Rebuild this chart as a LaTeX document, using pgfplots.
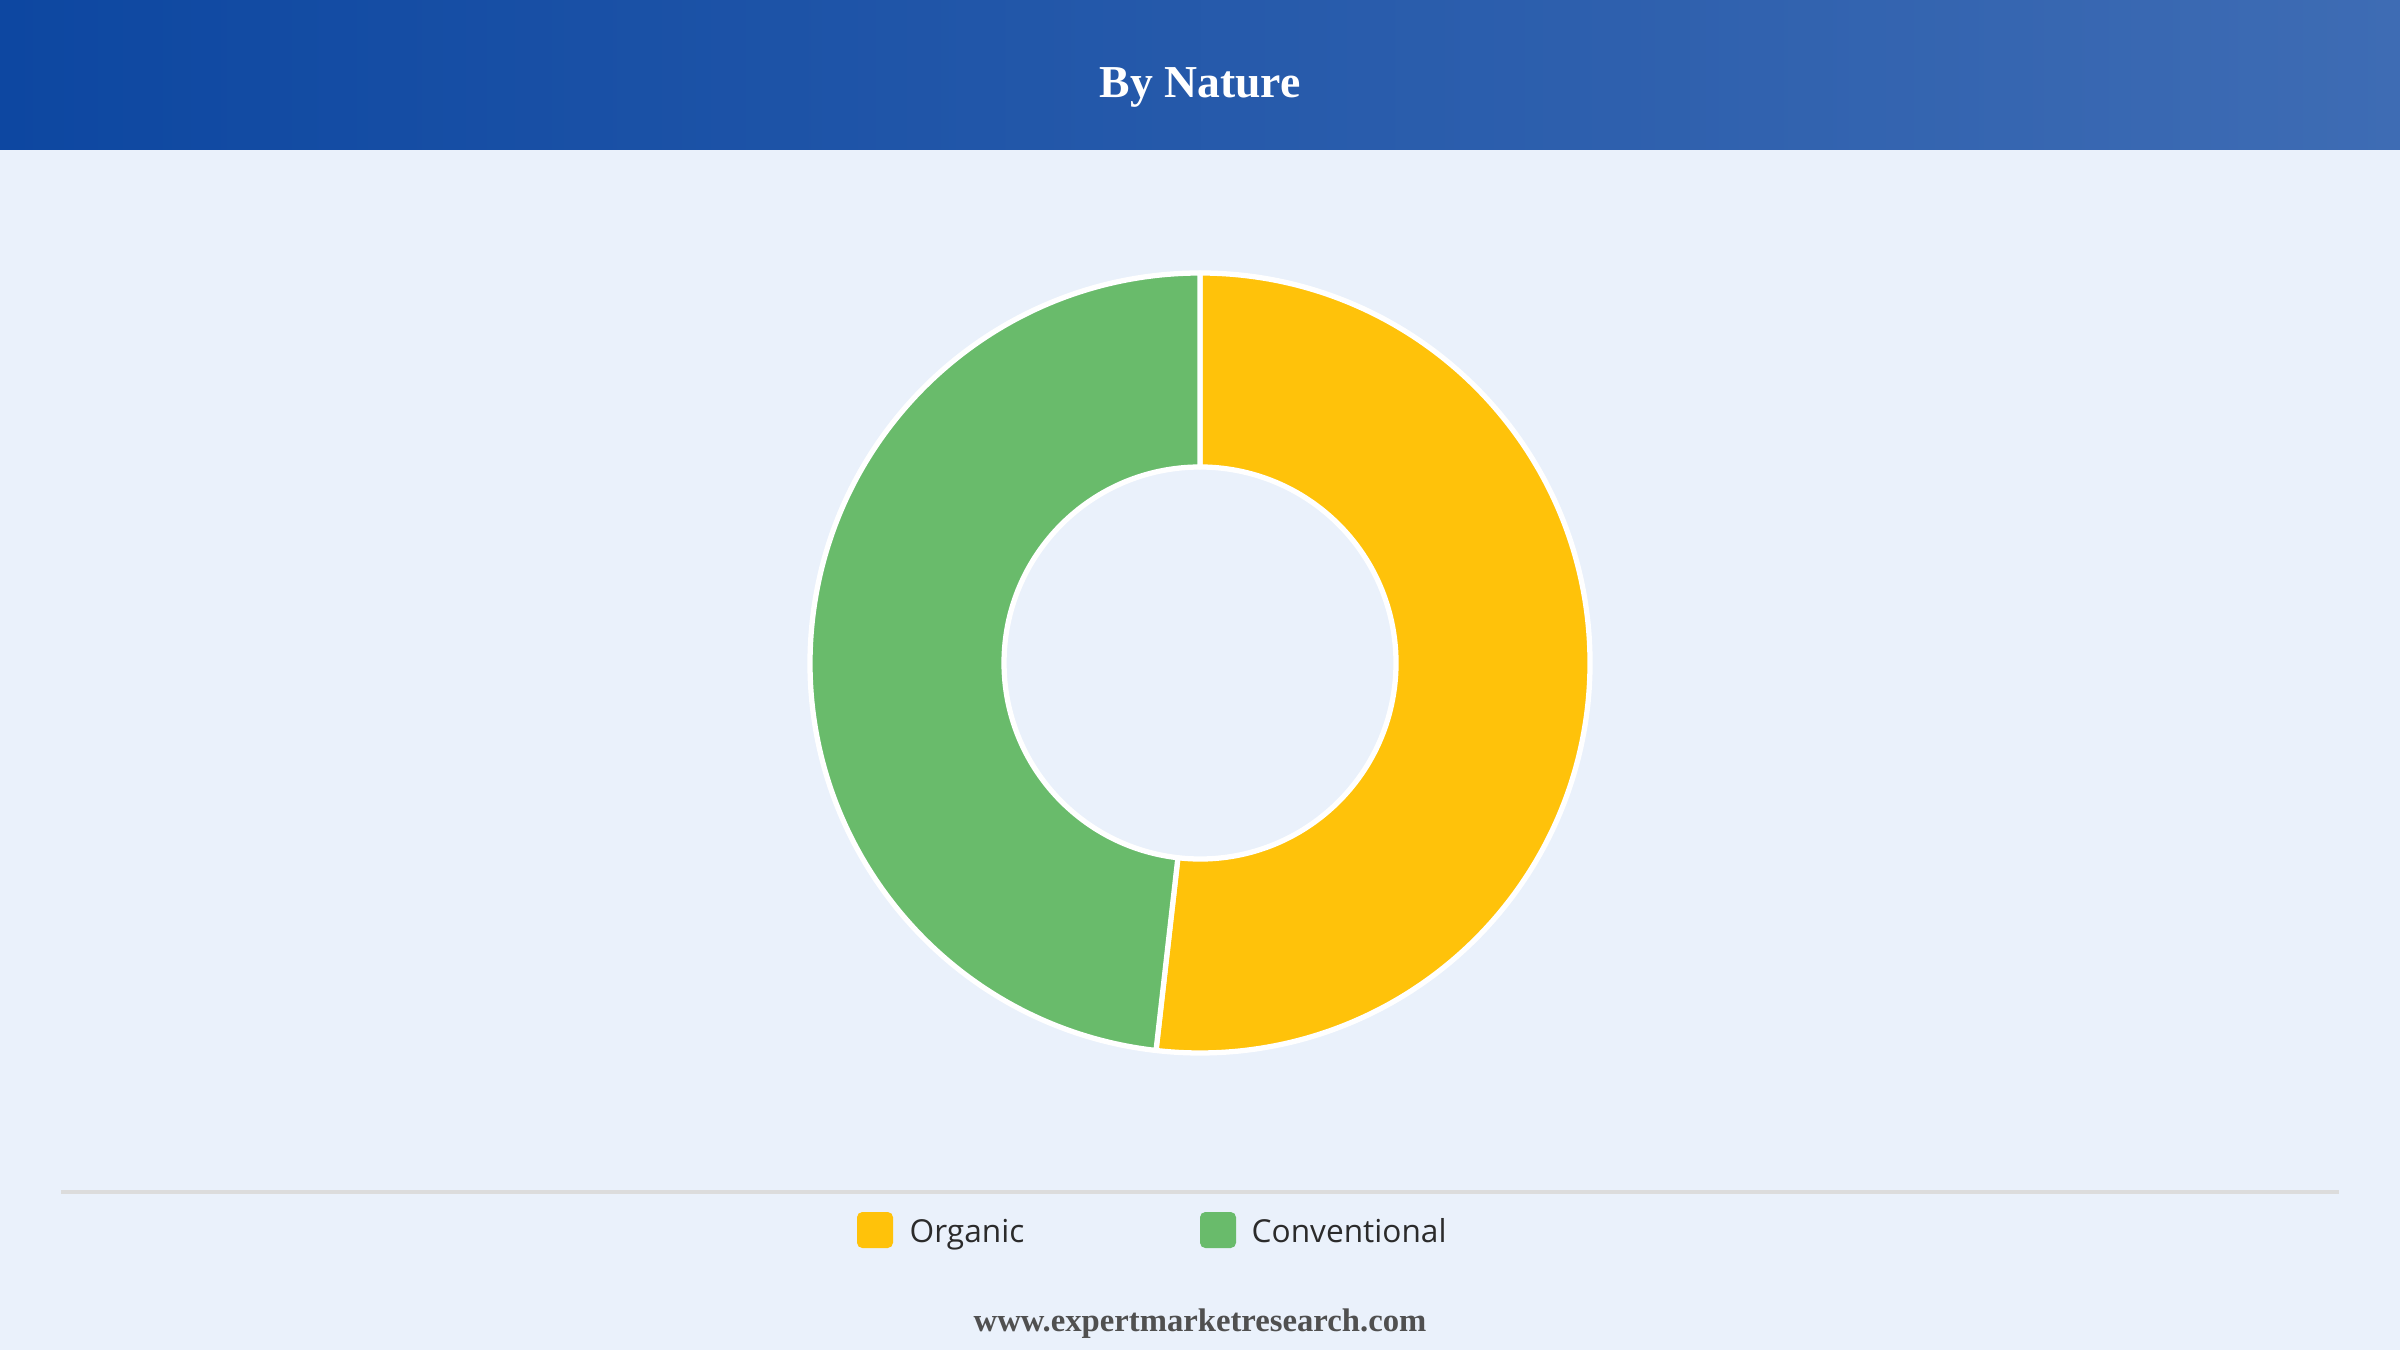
\documentclass[border=0pt]{standalone}
\usepackage{pgfplots}
\pgfplotsset{compat=1.18}
\usepackage{pgfplotstable}
\usepackage{fontspec}
\setmainfont{Liberation Serif}
\newfontfamily\legendfont{Open Sans}

\definecolor{pagebg}{HTML}{EAF1FB}
\definecolor{headleft}{HTML}{0D47A1}
\definecolor{headright}{HTML}{3E6CB4}
\definecolor{organic}{HTML}{FFC20A}
\definecolor{conventional}{HTML}{69BB6B}
\definecolor{legendtext}{HTML}{2B2B2B}
\definecolor{footgray}{HTML}{505050}
\definecolor{rulegray}{HTML}{DCDCDC}

% share of each nature, in percent
\pgfplotstableread{
label        value
Organic      51.8
Conventional 48.2
}\naturedata

\pgfplotstablegetelem{0}{value}\of\naturedata
\pgfmathsetmacro\organicEnd{90-3.6*\pgfplotsretval}
\pgfplotstablegetelem{1}{value}\of\naturedata
\pgfmathsetmacro\convEnd{\organicEnd-3.6*\pgfplotsretval}

% donut slice: colour, start angle, end angle
\newcommand\donutslice[3]{%
  \filldraw[fill=#1, draw=white, line width=1.5pt, line join=round]
    ([shift={(#2:3.9)}]12,6.87) arc[start angle=#2, end angle=#3, radius=3.9cm]
    -- ([shift={(#3:1.96)}]12,6.87) arc[start angle=#3, end angle=#2, radius=1.96cm]
    -- cycle;}

\begin{document}
\begin{tikzpicture}
  \fill[pagebg] (0,0) rectangle (24,13.5);
  \shade[left color=headleft, right color=headright] (0,12) rectangle (24,13.5);
  \node[text=white, font=\fontsize{13}{15}\selectfont\bfseries] at (12,12.63) {By Nature};

  \begin{axis}[
    hide axis,
    x=1cm, y=1cm,
    xmin=0, xmax=24,
    ymin=0, ymax=13.5,
    clip=false,
  ]
    \donutslice{organic}{90}{\organicEnd}
    \donutslice{conventional}{\organicEnd}{\convEnd}
  \end{axis}

  % legend
  \draw[rulegray, line width=1.2pt] (0.61,1.58) -- (23.39,1.58);
  \fill[organic, rounded corners=1.5pt] (8.57,1.02) rectangle (8.93,1.38);
  \node[anchor=base west, inner sep=0pt, text=legendtext, font=\legendfont\fontsize{9}{11}\selectfont] at (9.09,1.08) {Organic};
  \fill[conventional, rounded corners=1.5pt] (12.00,1.02) rectangle (12.36,1.38);
  \node[anchor=base west, inner sep=0pt, text=legendtext, font=\legendfont\fontsize{9}{11}\selectfont] at (12.51,1.08) {Conventional};

  \node[text=footgray, font=\fontsize{9.3}{11}\selectfont\bfseries] at (12,0.26) {www.expertmarketresearch.com};
\end{tikzpicture}
\end{document}
